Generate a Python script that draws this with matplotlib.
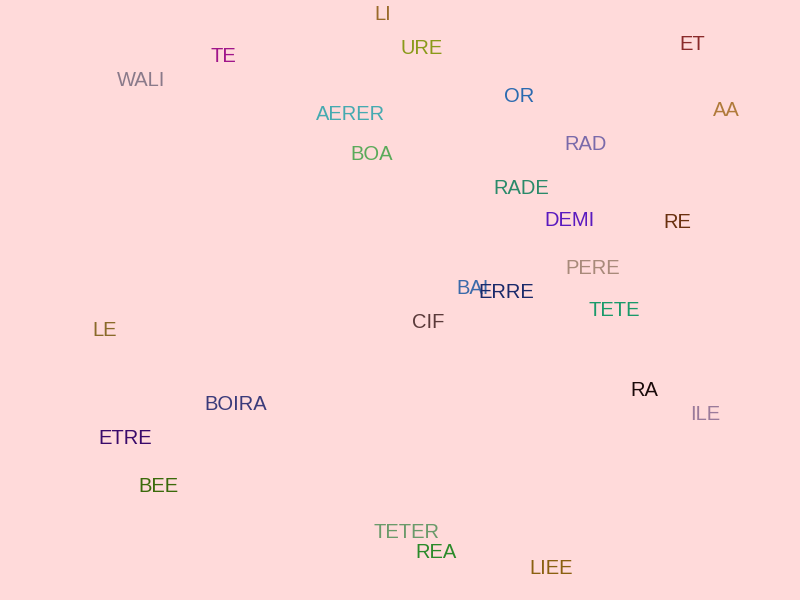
import matplotlib.pyplot as plt

# word positions (pixel-like units, y down) and colours
words = ["LI", "URE", "TE", "WALI", "AERER", "BOA", "ET", "OR", "AA", "RAD",
         "RADE", "DEMI", "RE", "PERE", "BAI", "ERRE", "TETE", "CIF", "LE",
         "RA", "ILE", "BOIRA", "ETRE", "BEE", "TETER", "REA", "LIEE"]
x_pos = [383, 422, 223, 141, 351, 372, 692, 519, 726, 586,
         521, 570, 677, 593, 473, 506, 614, 428, 105,
         644, 705, 236, 125, 158, 406, 436, 551]
y_pos = [13, 46, 54, 79, 113, 153, 43, 94, 109, 143,
         186, 219, 220, 266, 286, 290, 309, 321, 328,
         388, 413, 402, 437, 484, 530, 551, 567]
colors = ["#9a6a2a", "#8a9a1a", "#a0158a", "#8a7a8a", "#45aab0", "#5aaa5a",
          "#8a2a2a", "#2a6ab0", "#b07a3a", "#7a6aaa", "#2a8a6a", "#5a1abf",
          "#6a3010", "#a88a7a", "#3a6aaa", "#1a2a6a", "#1a9a6a", "#5a3a3a",
          "#8a6a2a", "#1a0a0a", "#9a7a9a", "#3a3a7a", "#3a0a6a", "#3a6a0a",
          "#6a9a6a", "#2a8a2a", "#8a6010"]

fig = plt.figure(figsize=(8, 6), dpi=100)
fig.patch.set_facecolor("#ffdada")
ax = fig.add_axes([0, 0, 1, 1])
ax.set_facecolor("#ffdada")
ax.set_xlim(0, 800)
ax.set_ylim(600, 0)
ax.axis("off")

for w, x, y, c in zip(words, x_pos, y_pos, colors):
    ax.text(x, y, w, color=c, ha="center", va="center_baseline",
            fontsize=14.5, family="Liberation Sans")

plt.savefig("out.png", dpi=100, facecolor=fig.get_facecolor())
